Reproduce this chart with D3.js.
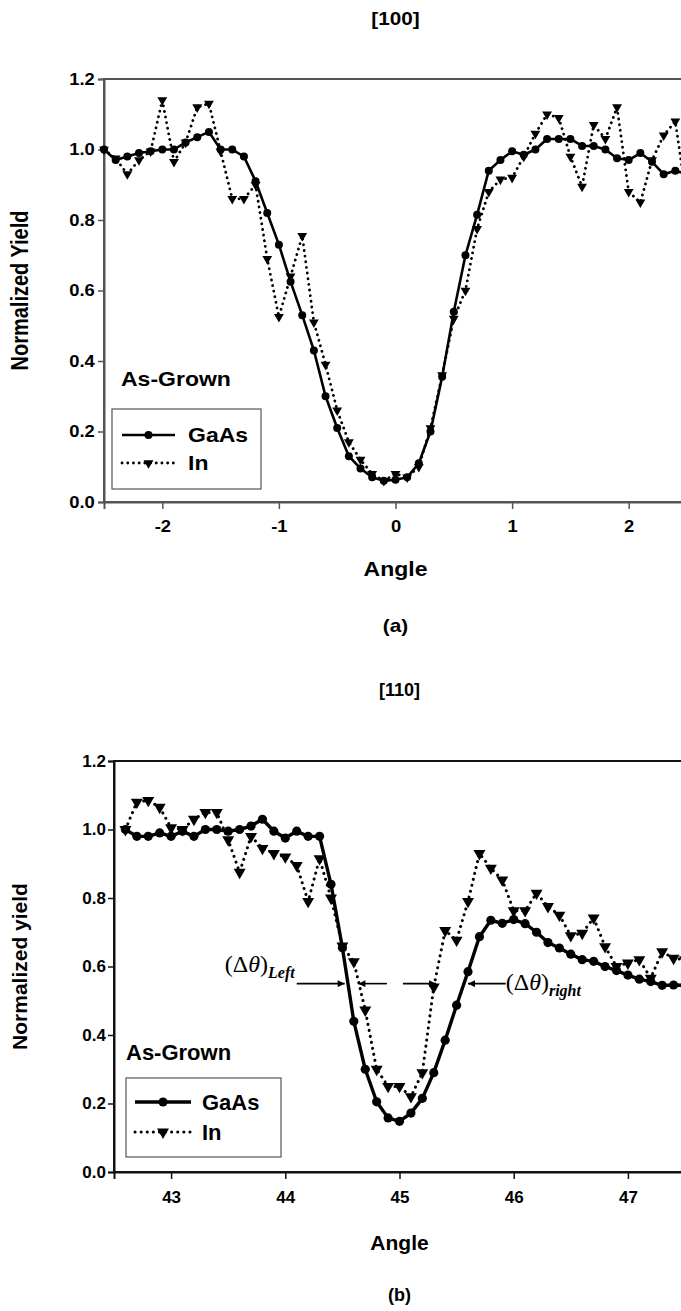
<!DOCTYPE html>
<html><head><meta charset="utf-8">
<script src="https://cdn.jsdelivr.net/npm/d3@7"></script>
<style>body{margin:0;background:#fff}svg{display:block}</style>
</head><body>
<script>
// ---------- DATA: panel (a) [100] ----------
const anglesA = [-2.5,-2.4,-2.3,-2.2,-2.1,-2.0,-1.9,-1.8,-1.7,-1.6,-1.5,-1.4,-1.3,-1.2,-1.1,-1.0,-0.9,-0.8,-0.7,-0.6,-0.5,-0.4,-0.3,-0.2,-0.1,0.0,0.1,0.2,0.3,0.4,0.5,0.6,0.7,0.8,0.9,1.0,1.1,1.2,1.3,1.4,1.5,1.6,1.7,1.8,1.9,2.0,2.1,2.2,2.3,2.4,2.5];
const gaasA = [1.00,0.97,0.98,0.99,0.995,1.00,1.00,1.02,1.035,1.05,1.00,1.00,0.98,0.91,0.82,0.73,0.625,0.53,0.43,0.30,0.21,0.13,0.095,0.07,0.06,0.063,0.07,0.11,0.20,0.355,0.54,0.70,0.815,0.94,0.97,0.995,0.985,1.00,1.03,1.03,1.03,1.01,1.01,1.00,0.975,0.97,0.99,0.965,0.93,0.94,0.93];
const inA   = [1.00,0.975,0.93,0.97,0.995,1.14,0.965,1.02,1.12,1.13,0.995,0.86,0.86,0.90,0.69,0.525,0.64,0.755,0.51,0.39,0.26,0.17,0.12,0.08,0.06,0.08,0.07,0.10,0.21,0.36,0.52,0.60,0.775,0.88,0.915,0.92,0.98,1.045,1.10,1.09,0.98,0.895,1.07,1.03,1.12,0.88,0.85,0.97,1.04,1.08,0.85];
const xTicksA = [-2,-1,0,1,2];
const xDomainA = [-2.5, 2.5];

// ---------- DATA: panel (b) [110] ----------
const anglesB = [42.6,42.7,42.8,42.9,43.0,43.1,43.2,43.3,43.4,43.5,43.6,43.7,43.8,43.9,44.0,44.1,44.2,44.3,44.4,44.5,44.6,44.7,44.8,44.9,45.0,45.1,45.2,45.3,45.4,45.5,45.6,45.7,45.8,45.9,46.0,46.1,46.2,46.3,46.4,46.5,46.6,46.7,46.8,46.9,47.0,47.1,47.2,47.3,47.4,47.5];
const gaasB = [1.00,0.98,0.98,0.99,0.98,0.995,0.98,1.00,1.00,0.995,1.00,1.01,1.03,0.995,0.975,0.995,0.98,0.98,0.84,0.655,0.44,0.30,0.205,0.158,0.148,0.172,0.215,0.29,0.385,0.487,0.585,0.687,0.735,0.726,0.737,0.725,0.70,0.67,0.654,0.636,0.62,0.615,0.60,0.588,0.575,0.563,0.556,0.545,0.546,0.545];
const inB   = [1.00,1.08,1.085,1.065,1.005,1.00,1.03,1.05,1.05,0.97,0.875,0.98,0.945,0.93,0.92,0.895,0.79,0.915,0.80,0.66,0.614,0.473,0.30,0.25,0.25,0.22,0.29,0.54,0.705,0.677,0.79,0.93,0.887,0.853,0.763,0.763,0.814,0.775,0.75,0.69,0.697,0.742,0.658,0.60,0.61,0.62,0.566,0.643,0.624,0.62];
const xTicksB = [43,44,45,46,47];
const xDomainB = [42.5, 47.5];

const yTicks = [0,0.2,0.4,0.6,0.8,1.0,1.2];
const seriesNames = ["GaAs","In"];

// ---------- DRAWING ----------
const W = 681, H = 1311;
const svg = d3.select("body").append("svg").attr("width", W).attr("height", H)
  .style("font-family", "'Liberation Sans', Arial, sans-serif");

const defs = svg.append("defs");
defs.append("marker").attr("id","ah").attr("viewBox","0 0 10 10").attr("refX",10).attr("refY",5)
  .attr("markerWidth",9).attr("markerHeight",7).attr("markerUnits","userSpaceOnUse").attr("orient","auto-start-reverse")
  .append("path").attr("d","M0,0 L10,5 L0,10 Z").attr("fill","#000");

function panel(o) {
  const x = d3.scaleLinear().domain(o.xDomain).range([o.left, o.right]);
  const y = d3.scaleLinear().domain([0, 1.2]).range([o.bottom, o.top]);
  const g = svg.append("g");
  const sx = o.stretch;

  g.append("rect").attr("x", o.left).attr("y", o.top).attr("width", o.right - o.left)
    .attr("height", o.bottom - o.top).attr("fill","none").attr("stroke", o.axisColor).attr("stroke-width", 2);

  const ya = g.append("g").attr("transform", `translate(${o.left},0)`)
    .call(d3.axisLeft(y).tickValues(yTicks).tickFormat(d3.format(".1f")).tickSize(6).tickPadding(8));
  const xa = g.append("g").attr("transform", `translate(0,${o.bottom})`)
    .call(d3.axisBottom(x).tickValues(o.xTicks).tickFormat(d => String(d)).tickSize(7).tickPadding(12));
  [ya, xa].forEach(a => {
    a.select(".domain").attr("stroke", o.axisColor).attr("stroke-width", 2);
    a.selectAll(".tick line").attr("stroke", o.axisColor).attr("stroke-width", 1.5);
    a.selectAll("text").attr("fill","#000").style("font-size", o.tickFont + "px").style("font-weight","bold")
      .style("font-family","'Liberation Sans', Arial, sans-serif");
  });
  ya.selectAll("text").attr("x", -8).attr("transform", `scale(${sx},1)`);
  xa.selectAll("text").attr("transform", `scale(${sx},1)`);

  const gaasPts = o.angles.map((a, i) => [a, o.gaas[i]]);
  const inPts = o.angles.map((a, i) => [a, o.inn[i]]);
  const line = d3.line().x(d => x(d[0])).y(d => y(d[1]));

  g.append("path").datum(inPts).attr("d", line).attr("fill","none").attr("stroke","#000")
    .attr("stroke-width", o.dotW).attr("stroke-linecap","round").attr("stroke-dasharray", o.dotDash);
  const tri = d3.symbol().type(d3.symbolTriangle).size(o.triSize);
  g.selectAll(".tri").data(inPts).join("path").attr("class","tri").attr("d", tri)
    .attr("transform", d => `translate(${x(d[0])},${y(d[1])}) rotate(180)`).attr("fill","#000");

  g.append("path").datum(gaasPts).attr("d", line).attr("fill","none").attr("stroke","#000")
    .attr("stroke-width", o.lineW).attr("stroke-linejoin","round");
  g.selectAll(".dot").data(gaasPts).join("circle").attr("class","dot")
    .attr("cx", d => x(d[0])).attr("cy", d => y(d[1])).attr("r", o.r).attr("fill","#000");

  const txt = (tx, ty, s, size, anchor, rot) => {
    const t = g.append("text").attr("transform", `translate(${tx},${ty}) ${rot ? "rotate(-90)" : ""} scale(${rot ? 1 : sx},${rot ? sx : 1})`)
      .attr("text-anchor", anchor).style("font-size", size + "px").style("font-weight","bold").text(s);
    return t;
  };
  const cx = (o.left + o.right) / 2;
  txt(cx, o.titleY, o.title, o.titleFont, "middle");
  txt(cx, o.xLabelY, "Angle", o.labelFont, "middle");
  txt(cx, o.capY, o.caption, o.titleFont, "middle");
  txt(o.yLabelX, (o.top + o.bottom) / 2, o.yLabel, o.labelFont, "middle", true);

  txt(o.asX, o.asY, "As-Grown", o.legFont, "start");
  const L = o.legend;
  g.append("rect").attr("x", L.x).attr("y", L.y).attr("width", L.w).attr("height", L.h)
    .attr("fill","#fff").attr("stroke","#555").attr("stroke-width",1.2);
  const rows = [L.y + L.r1, L.y + L.r2];
  g.append("line").attr("x1", L.x + L.l1).attr("x2", L.x + L.l2).attr("y1", rows[0]).attr("y2", rows[0])
    .attr("stroke","#000").attr("stroke-width", o.lineW);
  g.append("circle").attr("cx", L.x + (L.l1 + L.l2) / 2).attr("cy", rows[0]).attr("r", o.r).attr("fill","#000");
  g.append("line").attr("x1", L.x + L.l1).attr("x2", L.x + L.l2).attr("y1", rows[1]).attr("y2", rows[1])
    .attr("stroke","#000").attr("stroke-width", o.dotW).attr("stroke-linecap","round").attr("stroke-dasharray", o.dotDash);
  g.append("path").attr("d", tri).attr("transform", `translate(${L.x + (L.l1 + L.l2) / 2},${rows[1]}) rotate(180)`).attr("fill","#000");
  seriesNames.forEach((n, i) => txt(L.x + L.tx, rows[i] + o.legFont * 0.36, n, o.legFont, "start"));

  return {x, y, g};
}

panel({
  left: 104, right: 687, top: 79, bottom: 502, xDomain: xDomainA, xTicks: xTicksA,
  angles: anglesA, gaas: gaasA, inn: inA, axisColor: "#555", stretch: 1.15,
  tickFont: 16, labelFont: 20, titleFont: 18, legFont: 20,
  lineW: 2.6, r: 4, dotW: 2.8, dotDash: "0.1,5.6", triSize: 42,
  title: "[100]", titleY: 25, xLabelY: 576, capY: 632, caption: "(a)",
  yLabel: "Normalized Yield", yLabelX: 28,
  asX: 121, asY: 386,
  legend: {x: 112, y: 409, w: 149, h: 80, r1: 26, r2: 54, l1: 10, l2: 63, tx: 76}
});

const pb = panel({
  left: 114, right: 685, top: 761, bottom: 1172, xDomain: xDomainB, xTicks: xTicksB,
  angles: anglesB, gaas: gaasB, inn: inB, axisColor: "#111", stretch: 1.0,
  tickFont: 17, labelFont: 21, titleFont: 18, legFont: 22,
  lineW: 3.4, r: 4.6, dotW: 3, dotDash: "0.1,6", triSize: 62,
  title: "[110]", titleY: 696, xLabelY: 1250, capY: 1301, caption: "(b)",
  yLabel: "Normalized yield", yLabelX: 27,
  asX: 126, asY: 1060,
  legend: {x: 126, y: 1078, w: 155, h: 79, r1: 24, r2: 54, l1: 9, l2: 65, tx: 76}
});

// ---------- ANNOTATIONS (panel b), in data units ----------
const annY = 0.55;
const arrows = [
  {x1: 44.10, x2: 44.52},
  {x1: 44.89, x2: 44.64},
  {x1: 45.03, x2: 45.32},
  {x1: 45.93, x2: 45.60}
];
const labels = [
  {x: 43.47, y: 0.585, sub: "Left"},
  {x: 45.93, y: 0.53, sub: "right"}
];
arrows.forEach(a => {
  pb.g.append("line").attr("x1", pb.x(a.x1)).attr("x2", pb.x(a.x2)).attr("y1", pb.y(annY)).attr("y2", pb.y(annY))
    .attr("stroke","#000").attr("stroke-width",1.6).attr("marker-end","url(#ah)");
});
labels.forEach(l => {
  const t = pb.g.append("text").attr("x", pb.x(l.x)).attr("y", pb.y(l.y))
    .style("font-family","'Liberation Serif','Times New Roman',serif").style("font-size","24px");
  t.append("tspan").text("(\u0394");
  t.append("tspan").style("font-style","italic").text("\u03b8");
  t.append("tspan").text(")");
  t.append("tspan").attr("dy", 6).style("font-size","16px").style("font-weight","bold").style("font-style","italic").text(l.sub);
});
</script>
</body></html>
